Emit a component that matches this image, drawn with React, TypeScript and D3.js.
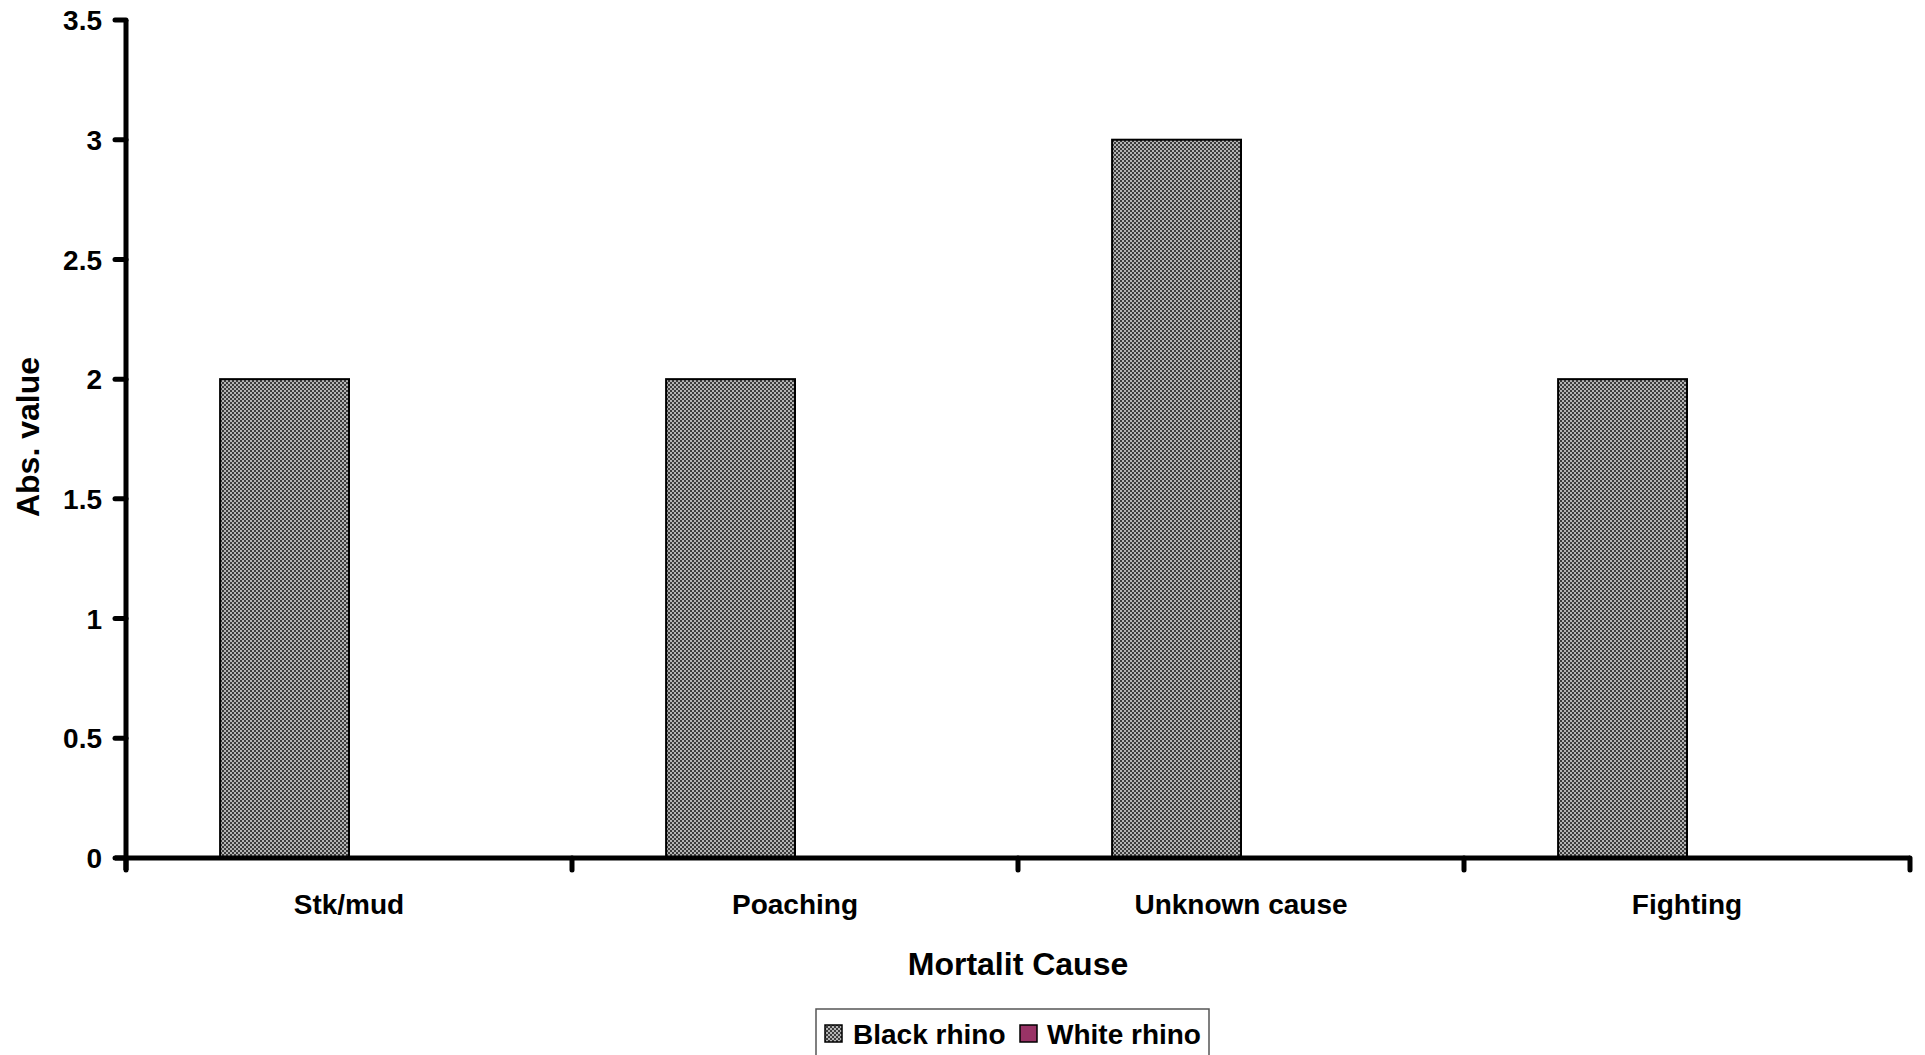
import React from "react";
import * as d3 from "d3";

const categories = ["Stk/mud", "Poaching", "Unknown cause", "Fighting"];
const seriesNames = ["Black rhino", "White rhino"];
const blackRhino = [2, 2, 3, 2];
const whiteRhino = [0, 0, 0, 0];
const yTicks = [0, 0.5, 1, 1.5, 2, 2.5, 3, 3.5];

const W = 1925;
const H = 1055;
const left = 126;
const right = 1910;
const top = 20;
const bottom = 858;
const font = "Arial, 'Liberation Sans', Helvetica, sans-serif";

export default function App() {
  const x = d3.scaleBand<string>().domain(categories).range([left, right]).paddingInner(0).paddingOuter(0);
  const bw = x.bandwidth();
  const barW = bw / (2 + 1.46);
  const gap = bw - 2 * barW;
  const y = d3.scaleLinear().domain([0, 3.5]).range([bottom, top]);
  const series = [
    { name: seriesNames[0], values: blackRhino, fill: "url(#checker)" },
    { name: seriesNames[1], values: whiteRhino, fill: "#993366" },
  ];
  const boundaries = d3.range(categories.length + 1).map((i) => left + i * bw);

  return (
    <svg
      width={W}
      height={H}
      style={{ position: "fixed", left: 0, top: 0, background: "#fff" }}
      fontFamily={font}
    >
      <defs>
        <pattern id="checker" width="4" height="4" patternUnits="userSpaceOnUse">
          <rect width="4" height="4" fill="#b4b4b4" />
          <rect x="0" y="0" width="2" height="2" fill="#3c3c3c" />
          <rect x="2" y="2" width="2" height="2" fill="#3c3c3c" />
        </pattern>
      </defs>
      <rect width={W} height={H} fill="#fff" />

      {/* bars */}
      {series.map((s, si) =>
        categories.map((c, ci) => {
          const v = s.values[ci];
          if (v <= 0) return null;
          const bx = (x(c) as number) + gap / 2 + si * barW;
          return (
            <rect
              key={s.name + c}
              x={bx}
              y={y(v)}
              width={barW}
              height={y(0) - y(v)}
              fill={s.fill}
              stroke="#000"
              strokeWidth={2}
            />
          );
        })
      )}

      {/* y axis */}
      <line x1={left} x2={left} y1={top} y2={bottom + 12} stroke="#000" strokeWidth={5} />
      {yTicks.map((t) => (
        <g key={t}>
          <line x1={left - 11} x2={left} y1={y(t)} y2={y(t)} stroke="#000" strokeWidth={5} strokeLinecap="round" />
          <text x={102} y={y(t)} dy="0.36em" textAnchor="end" fontSize={28} fontWeight="bold">
            {t}
          </text>
        </g>
      ))}

      {/* x axis */}
      <line x1={left - 11} x2={right} y1={bottom} y2={bottom} stroke="#000" strokeWidth={5} />
      {boundaries.map((b, i) => (
        <line key={i} x1={b} x2={b} y1={bottom} y2={bottom + 12} stroke="#000" strokeWidth={5} strokeLinecap="round" />
      ))}
      {categories.map((c) => (
        <text key={c} x={(x(c) as number) + bw / 2} y={914} textAnchor="middle" fontSize={28} fontWeight="bold">
          {c}
        </text>
      ))}

      {/* axis titles */}
      <text x={(left + right) / 2} y={975} textAnchor="middle" fontSize={32} fontWeight="bold">
        Mortalit Cause
      </text>
      <text
        transform={`translate(39,437) rotate(-90)`}
        textAnchor="middle"
        fontSize={32}
        fontWeight="bold"
      >
        Abs. value
      </text>

      {/* legend */}
      <rect x={816} y={1009} width={393} height={60} fill="#fff" stroke="#555" strokeWidth={1.5} />
      <rect x={825} y={1025} width={17} height={17} fill="url(#checker)" stroke="#000" strokeWidth={1.5} />
      <text x={853} y={1044} fontSize={28} fontWeight="bold">
        {seriesNames[0]}
      </text>
      <rect x={1020} y={1025} width={17} height={17} fill="#993366" stroke="#000" strokeWidth={1.5} />
      <text x={1047} y={1044} fontSize={28} fontWeight="bold">
        {seriesNames[1]}
      </text>
    </svg>
  );
}
